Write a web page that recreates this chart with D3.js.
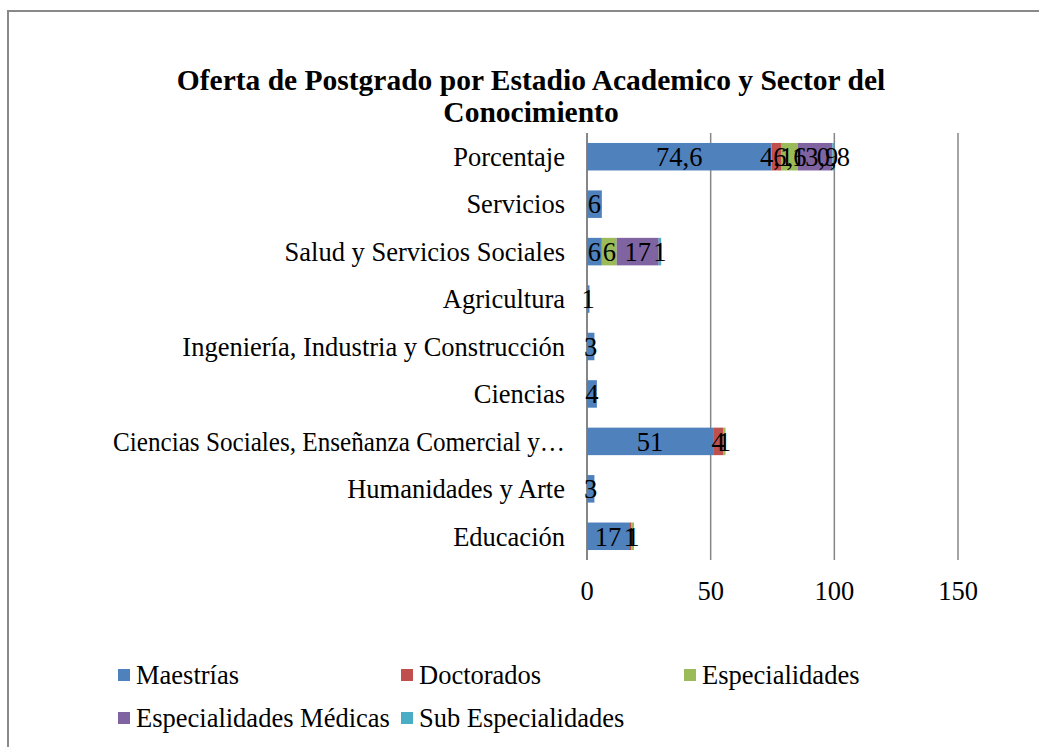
<!DOCTYPE html>
<html>
<head>
<meta charset="utf-8">
<script src="https://cdn.jsdelivr.net/npm/d3@7"></script>
<style>
  body { margin: 0; background: #fff; }
  svg { display: block; font-family: "Liberation Serif", "Times New Roman", serif; }
</style>
</head>
<body>
<svg id="chart"></svg>
<script>
// Categories, bottom to top as in the source sheet
const categories = [
    "Educación",
    "Humanidades y Arte",
    "Ciencias Sociales, Enseñanza Comercial y Derecho",
    "Ciencias",
    "Ingeniería, Industria y Construcción",
    "Agricultura",
    "Salud y Servicios Sociales",
    "Servicios",
    "Porcentaje"
];

// Series values (one per category)
const maestrias      = [17, 3, 51, 4, 3, 1, 6, 6, 74.6];
const doctorados     = [1, 0, 4, 0, 0, 0, 0, 0, 4.1];
const especialidades = [1, 0, 1, 0, 0, 0, 6, 0, 6.6];
const especMedicas   = [0, 0, 0, 0, 0, 0, 17, 0, 13.9];
const subEspec       = [0, 0, 0, 0, 0, 0, 1, 0, 0.8];

const seriesNames = ["Maestrías", "Doctorados", "Especialidades", "Especialidades Médicas", "Sub Especialidades"];
const seriesColors = ["#4F81BD", "#C0504D", "#9BBB59", "#8064A2", "#4BACC6"];
const xTicks = [0, 50, 100, 150];

const width = 1039, height = 747;
const fontSize = 26.5;
const svg = d3.select("#chart").attr("width", width).attr("height", height);

svg.append("rect").attr("width", width).attr("height", height).attr("fill", "#fff");
// chart frame (runs off the right/bottom edges)
svg.append("rect")
    .attr("x", 8).attr("y", 11)
    .attr("width", 1060).attr("height", 780)
    .attr("fill", "none").attr("stroke", "#898989").attr("stroke-width", 2);

// Title
const title = svg.append("text")
    .attr("text-anchor", "middle")
    .attr("font-weight", "bold")
    .attr("font-size", 29.5);
title.append("tspan").attr("x", 531).attr("y", 90).text("Oferta de Postgrado por Estadio Academico y Sector del");
title.append("tspan").attr("x", 531).attr("y", 122).text("Conocimiento");

// Build a table for the stack
const table = categories.map((c, i) => ({
    cat: c,
    "Maestrías": maestrias[i],
    "Doctorados": doctorados[i],
    "Especialidades": especialidades[i],
    "Especialidades Médicas": especMedicas[i],
    "Sub Especialidades": subEspec[i]
}));
const stacked = d3.stack().keys(seriesNames)(table);

const x = d3.scaleLinear().domain([0, 150]).range([587, 958]);
const y = d3.scaleBand()
    .domain(categories.slice().reverse())
    .range([133, 560])
    .paddingInner(0.42)
    .paddingOuter(0.21);

// gridlines
svg.append("g").selectAll("line")
    .data(xTicks)
    .enter().append("line")
    .attr("x1", d => x(d)).attr("x2", d => x(d))
    .attr("y1", 133).attr("y2", 560)
    .attr("stroke", "#868686")
    .attr("stroke-width", d => d === 0 ? 2 : 1.5);

// tick labels
svg.append("g").selectAll("text")
    .data(xTicks)
    .enter().append("text")
    .attr("x", d => x(d))
    .attr("y", 600)
    .attr("text-anchor", "middle")
    .attr("font-size", fontSize)
    .text(d => d);

// bars
const layers = svg.append("g").selectAll("g")
    .data(stacked)
    .enter().append("g")
    .attr("fill", (d, i) => seriesColors[i]);

layers.selectAll("rect")
    .data(d => d)
    .enter().append("rect")
    .attr("x", d => x(d[0]))
    .attr("y", d => y(d.data.cat))
    .attr("width", d => x(d[1]) - x(d[0]))
    .attr("height", y.bandwidth());

// data labels
const fmt = d3.formatLocale({ decimal: ",", thousands: ".", grouping: [3], currency: ["", ""] }).format("~g");
const labels = svg.append("g");
stacked.forEach(layer => {
    labels.selectAll(null)
        .data(layer.filter(d => d[1] - d[0] > 0))
        .enter().append("text")
        .attr("x", d => x((d[0] + d[1]) / 2))
        .attr("y", d => y(d.data.cat) + y.bandwidth() / 2)
        .attr("dy", "0.35em")
        .attr("text-anchor", "middle")
        .attr("font-size", fontSize)
        .text(d => fmt(d[1] - d[0]));
});

// category labels, truncated like the original
const cutW = 485, fitW = 452;
const catLabels = svg.append("g").selectAll("text")
    .data(categories)
    .enter().append("text")
    .attr("x", 565)
    .attr("y", d => y(d) + y.bandwidth() / 2)
    .attr("dy", "0.35em")
    .attr("text-anchor", "end")
    .attr("font-size", fontSize)
    .text(d => d);

catLabels.each(function(d) {
    const t = d3.select(this);
    if (this.getComputedTextLength() <= fitW) return;
    let s = d;
    while (s.length > 1) {
        s = s.slice(0, -1);
        t.text(s.trimEnd() + "…");
        if (this.getComputedTextLength() <= cutW) break;
    }
    if (this.getComputedTextLength() > fitW) {
        t.attr("textLength", fitW).attr("lengthAdjust", "spacingAndGlyphs");
    }
});

// legend
const legendPos = [[118, 675], [401, 675], [684, 675], [118, 718], [401, 718]];
const legend = svg.append("g").selectAll("g")
    .data(seriesNames)
    .enter().append("g")
    .attr("transform", (d, i) => `translate(${legendPos[i][0]},${legendPos[i][1]})`);

legend.append("rect")
    .attr("x", 0).attr("y", -6)
    .attr("width", 12).attr("height", 12)
    .attr("fill", (d, i) => seriesColors[i]);

legend.append("text")
    .attr("x", 18)
    .attr("dy", "0.35em")
    .attr("font-size", fontSize)
    .text(d => d);
</script>
</body>
</html>
